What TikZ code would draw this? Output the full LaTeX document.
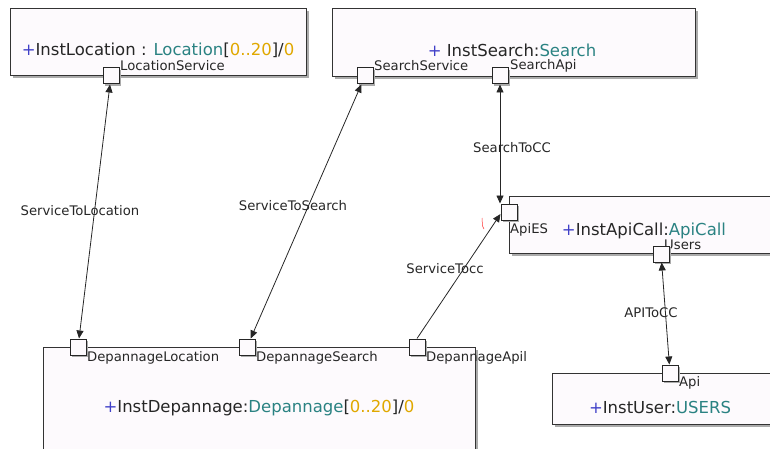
\documentclass[tikz,border=0pt]{standalone}
\usepackage{fontspec}
\setmainfont{DejaVu Sans}
\usetikzlibrary{arrows.meta,shadows,positioning,calc}
\definecolor{boxfill}{HTML}{FDFAFD}
\definecolor{plusblue}{HTML}{4040C8}
\definecolor{typeteal}{HTML}{2A8282}
\definecolor{multorange}{HTML}{E0A800}
\definecolor{shadowgray}{HTML}{ABABAB}
\tikzset{
  partbox/.style={draw=black!80, line width=1pt, fill=boxfill, inner sep=0pt,
    drop shadow={shadow xshift=2.5pt, shadow yshift=-2.5pt, fill=shadowgray, opacity=1}},
  port/.style={draw=black!85, line width=1pt, fill=boxfill, minimum size=16pt, inner sep=0pt,
    drop shadow={shadow xshift=2pt, shadow yshift=-2pt, fill=shadowgray, opacity=1}},
  parttext/.style={font=\fontsize{16.5}{18}\selectfont, text=black!85, inner sep=0pt},
  portlabel/.style={font=\fontsize{13.2}{15}\selectfont, text=black!85, inner sep=0pt, anchor=west},
  conlabel/.style={font=\fontsize{13.2}{15}\selectfont, text=black!85, inner sep=0pt},
  conn/.style={line width=0.8pt, draw=black!85},
  tip/.tip={Triangle[length=8pt,width=7pt]}
}
\newcommand{\pls}{\textcolor{plusblue}{+}}
\newcommand{\typ}[1]{\textcolor{typeteal}{#1}}
\newcommand{\mlt}[1]{\textcolor{multorange}{#1}}
\begin{document}
\begin{tikzpicture}[x=1pt,y=-1pt]
\useasboundingbox (0,0) rectangle (770,449);
% part boxes
\node[partbox, anchor=north west, minimum width=296pt, minimum height=67pt] (loc) at (10,8) {};
\node[partbox, anchor=north west, minimum width=363pt, minimum height=68pt] (srch) at (332,8) {};
\node[partbox, anchor=north west, minimum width=266pt, minimum height=57pt] (api) at (509,196) {};
\node[partbox, anchor=north west, minimum width=223pt, minimum height=51pt] (usr) at (552,373) {};
\node[partbox, anchor=north west, minimum width=432pt, minimum height=110pt] (dep) at (43,347) {};
% part texts
\node[parttext] (loct) at (158,50) {\pls InstLocation : \typ{Location}[\mlt{0..20}]/\mlt{0}};
\node[parttext] (srcht) at (512,50) {\pls{} InstSearch:\typ{Search}};
\node[parttext] (apit) at (644,231) {\pls InstApiCall:\typ{ApiCall}};
\node[parttext] (usrt) at (660,407) {\pls InstUser:\typ{USERS}};
\node[parttext] (dept) at (259,408) {\pls InstDepannage:\typ{Depannage}[\mlt{0..20}]/\mlt{0}};
% port labels
\node[portlabel] (llocs) at (120,66) {LocationService};
\node[portlabel] (lss) at (374,66) {SearchService};
\node[portlabel] (lsa) at (510,66) {SearchApi};
\node[portlabel] (lae) at (510,230) {ApiES};
\node[portlabel] (lus) at (664,245) {Users};
\node[portlabel] (lapi) at (679,383) {Api};
\node[portlabel] (ldl) at (87,358) {DepannageLocation};
\node[portlabel] (lds) at (256,358) {DepannageSearch};
\node[portlabel] (lda) at (426,358) {DepannageApil};
% ports
\node[port] (plocs) at (111,76) {};
\node[port] (pss) at (365,76) {};
\node[port] (psa) at (500,76) {};
\node[port] (pae) at (509,212) {};
\node[port] (pus) at (661,254) {};
\node[port] (papi) at (670,373) {};
\node[port] (pdl) at (78,347) {};
\node[port] (pds) at (247,347) {};
\node[port] (pda) at (417,347) {};
% connectors
\draw[conn, {tip}-{tip}] (plocs) -- (pdl);
\draw[conn, {tip}-{tip}] (pss) -- (pds);
\draw[conn, {tip}-{tip}] (psa.south) -- (psa.south |- pae.north);
\draw[conn, -{tip}] (pda.north) -- ([yshift=-2pt]pae.west);
\draw[conn, {tip}-{tip}] (pus) -- (papi);
% connector labels
\node[conlabel] (c1) at (80,211) {ServiceToLocation};
\node[conlabel] (c2) at (293,206) {ServiceToSearch};
\node[conlabel] (c3) at (512,148) {SearchToCC};
\node[conlabel] (c4) at (445,269) {ServiceTocc};
\node[conlabel] (c5) at (651,313) {APIToCC};
% small red mark
\draw[red!80, line width=0.5pt] (482,218) -- (482.5,226) -- (484,229);
\end{tikzpicture}
\end{document}
